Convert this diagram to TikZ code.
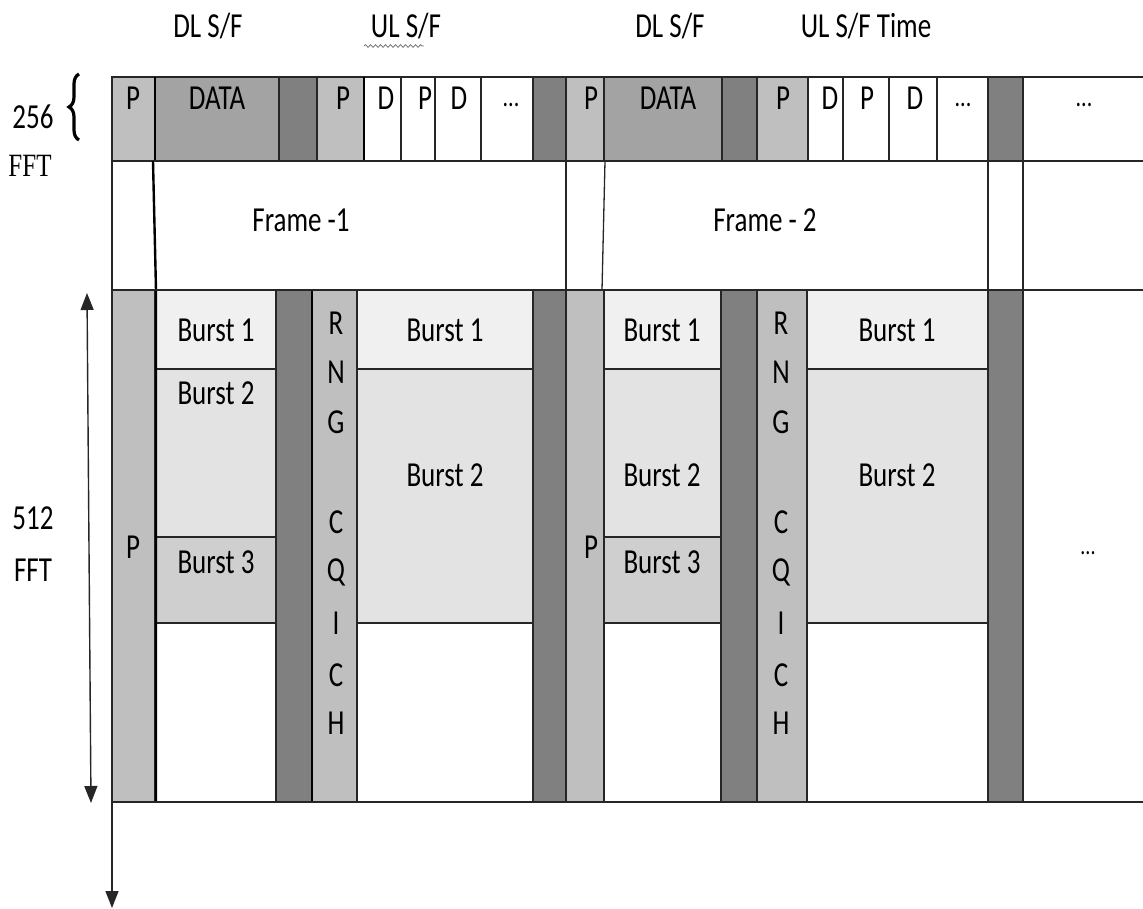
\documentclass[tikz,border=0pt]{standalone}
\usepackage{fontspec}
\usepackage{graphicx}
\setmainfont{Carlito}
\newfontfamily\serf{Liberation Serif}
\usetikzlibrary{decorations.pathreplacing,decorations.pathmorphing,arrows.meta}
\newcommand{\vs}[1]{\scalebox{1}[1.3]{#1}}
\begin{document}
\begin{tikzpicture}[x=1pt,y=-1pt,
  cell/.style={draw=black!85,line width=1.3pt},
  lp/.style={cell,fill=black!25},
  dk/.style={cell,fill=black!50},
  da/.style={cell,fill=black!36},
  bA/.style={cell,fill=black!6},
  bB/.style={cell,fill=black!11},
  bC/.style={cell,fill=black!19},
  wh/.style={cell,fill=white},
  txt/.style={font=\fontsize{27}{30}\selectfont,inner sep=0pt},
  sep/.style={line width=2.4pt,black},
  arr/.style={line width=1.4pt,black!85},
  tip/.tip={Triangle[length=17pt,width=13pt]},
]
\useasboundingbox (0,0) rectangle (1143,909);
% top labels
\node[txt] (dl1) at (208,26) {\vs{DL S/F}};
\node[txt] (ul1) at (406,26) {\vs{UL S/F}};
\node[txt] (dl2) at (670,26) {\vs{DL S/F}};
\node[txt] (ul2) at (866,26) {\vs{UL S/F Time}};
\draw[black!55,line width=0.8pt,decorate,decoration={snake,amplitude=1.3pt,segment length=5pt}] (364,46) -- (424,46);
% 256 FFT
\node[txt] (n256) at (33,117) {\vs{256}};
\node[txt,font=\serf\fontsize{25}{28}\selectfont] (fft1) at (30,166) {\vs{FFT}};
\coordinate (brB) at (79,140);
\coordinate (brT) at (79,74);
\draw[line width=3.2pt,decorate,decoration={brace,amplitude=10pt}] (brB) -- (brT);
% top row
\foreach \a/\b/\s in {112/155/lp, 155/279/da, 279/317/dk, 317/364/lp, 364/401/wh, 401/435/wh, 435/481/wh, 481/533/wh, 533/566/dk, 566/604/lp, 604/722/da, 722/757/dk, 757/808/lp, 808/843/wh, 843/889/wh, 889/937/wh, 937/988/wh, 988/1023/dk, 1023/1145/wh}
  \draw[\s] (\a,77) rectangle (\b,161);
\draw[sep] (155,77) -- (155,161);
\draw[sep] (364,77) -- (364,161);
\foreach \x/\t/\n in {133/P/a, 217/DATA/b, 343/P/c, 386/D/d, 425/P/e, 459/D/f, 591/P/g, 668/DATA/h, 783/P/i, 830/D/j, 867/P/k, 915/D/l}
  \node[txt] (top\n) at (\x,98) {\vs{\t}};
\foreach \x/\n in {511/a, 963/b, 1084/c}
  \node[txt,font=\fontsize{22}{24}\selectfont] (dots\n) at (\x,105) {\vs{...}};
% frame row
\draw[cell] (112,161) rectangle (1145,290);
\draw[cell] (566,161) -- (566,290);
\draw[cell] (605,161) -- (602,290);
\draw[cell] (988,161) -- (988,290);
\draw[cell] (1023,161) -- (1023,290);
\node[txt] (fr1) at (301,220) {\vs{Frame -1}};
\node[txt] (fr2) at (765,220) {\vs{Frame - 2}};
% bottom section
\foreach \a/\b/\s in {112/155/lp, 276/312/dk, 312/357/lp, 533/566/dk, 566/604/lp, 721/757/dk, 757/807/lp, 988/1023/dk, 1023/1145/wh}
  \draw[\s] (\a,290) rectangle (\b,802);
\foreach \a/\b in {155/276, 604/721} {
  \draw[bA] (\a,290) rectangle (\b,369);
  \draw[bB] (\a,369) rectangle (\b,537);
  \draw[bC] (\a,537) rectangle (\b,623);
  \draw[wh] (\a,623) rectangle (\b,802);
}
\foreach \a/\b in {357/533, 807/988} {
  \draw[bA] (\a,290) rectangle (\b,369);
  \draw[bB] (\a,369) rectangle (\b,623);
  \draw[wh] (\a,623) rectangle (\b,802);
}
\draw[sep] (153,161) -- (156,290) -- (156,802);
\draw[sep] (312,290) -- (312,802);
\draw[cell] (112,77) -- (112,802) -- (1145,802);
\draw[cell] (112,290) -- (1145,290);
% burst labels
\node[txt] (b11) at (216,330) {\vs{Burst 1}};
\node[txt] (b12) at (216,393) {\vs{Burst 2}};
\node[txt] (b13) at (216,562) {\vs{Burst 3}};
\node[txt] (u11) at (445,330) {\vs{Burst 1}};
\node[txt] (u12) at (445,475) {\vs{Burst 2}};
\node[txt] (b21) at (662,330) {\vs{Burst 1}};
\node[txt] (b22) at (662,475) {\vs{Burst 2}};
\node[txt] (b23) at (662,562) {\vs{Burst 3}};
\node[txt] (u21) at (897,330) {\vs{Burst 1}};
\node[txt] (u22) at (897,475) {\vs{Burst 2}};
\node[txt] (pb1) at (133,547) {\vs{P}};
\node[txt] (pb2) at (591,547) {\vs{P}};
\node[txt,font=\fontsize{20}{22}\selectfont] (dotsd) at (1088,553) {\vs{...}};
\foreach \l/\y/\n in {R/323/a,N/372/b,G/422/c,C/522/d,Q/572/e,I/623/f,C/675/g,H/723/h} {
  \node[txt] (rngA\n) at (336,\y) {\vs{\l}};
  \node[txt] (rngB\n) at (781,\y) {\vs{\l}};
}
% left labels
\node[txt] (n512) at (33,518) {\vs{512}};
\node[txt] (fft2) at (33,570) {\vs{FFT}};
% arrows
\coordinate (aT) at (87,293);
\coordinate (aB) at (91,803);
\draw[arr,tip-tip] (aT) -- (aB);
\coordinate (tO) at (112,802);
\coordinate (tE) at (112,908);
\draw[arr,-tip] (tO) -- (tE);
\end{tikzpicture}
\end{document}
